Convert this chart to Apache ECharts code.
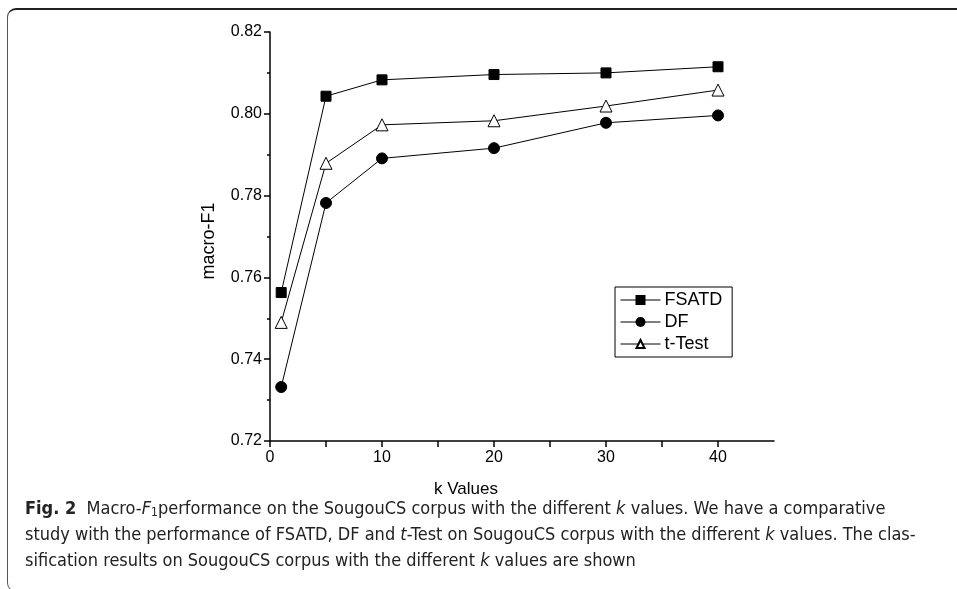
<!DOCTYPE html>
<html>
<head>
<meta charset="utf-8">
<script src="https://cdn.jsdelivr.net/npm/echarts@6/dist/echarts.min.js"></script>
<style>
    html, body { margin: 0; padding: 0; background: #fff; }
    #wrap { position: relative; width: 957px; height: 589px; overflow: hidden; }
    #chart { position: absolute; left: 0; top: 0; width: 957px; height: 589px; }
    #frame {
        position: absolute; left: 7px; top: 8px; width: 1000px; height: 584px;
        border-top: 2px solid #222; border-left: 1.5px solid #555;
        border-top-left-radius: 9px; border-bottom-left-radius: 9px;
        border-bottom: 1.5px solid #555;
        box-sizing: border-box; pointer-events: none;
    }
    #caption {
        position: absolute; left: 25px; top: 495px; width: 930px;
        font-family: "DejaVu Sans Condensed", "Liberation Sans Narrow", sans-serif;
        font-size: 18px; line-height: 26px; color: #222; white-space: nowrap;
    }
    #caption b { font-weight: bold; }
    sub { font-size: 12px; vertical-align: -2px; line-height: 0; }
</style>
</head>
<body>
<div id="wrap">
    <div id="chart"></div>
    <div id="frame"></div>
    <div id="caption"><b>Fig. 2</b>&nbsp; Macro-<i>F</i><sub>1</sub>performance on the SougouCS corpus with the different <i>k</i> values. We have a comparative<br>study with the performance of FSATD, DF and <i>t</i>-Test on SougouCS corpus with the different <i>k</i> values. The clas-<br>sification results on SougouCS corpus with the different <i>k</i> values are shown</div>
</div>
<script>
// k values on the x axis
var kValues = [1, 5, 10, 20, 30, 40];

// macro-F1 for each method
var fsatd = [0.7563, 0.8043, 0.8083, 0.8096, 0.8100, 0.8115];
var df    = [0.7332, 0.7782, 0.7891, 0.7916, 0.7978, 0.7996];
var tTest = [0.7490, 0.7879, 0.7973, 0.7983, 0.8019, 0.8058];

var seriesNames = ['FSATD', 'DF', 't-Test'];

function pairs(vals)
{
    var out = [];
    for (var i = 0; i < kValues.length; i++) {
        out.push([kValues[i], vals[i]]);
    }
    return out;
}

function lineSeries(name, vals, symbol, size, fill)
{
    return {
        name: name,
        type: 'line',
        data: pairs(vals),
        symbol: symbol,
        symbolSize: size,
        showAllSymbol: true,
        color: '#000',
        lineStyle: { color: '#000', width: 1 },
        itemStyle: { color: fill, borderColor: '#000', borderWidth: 1 },
        emphasis: { disabled: true },
        animation: false
    };
}

var axisFont = { fontFamily: 'Liberation Sans, Arial, sans-serif', fontSize: 16, color: '#000' };

var option = {
    animation: false,
    grid: { left: 270, right: 183, top: 32, bottom: 148 },
    legend: {
        orient: 'vertical',
        left: 615,
        top: 287,
        padding: [4, 10, 4, 5],
        itemGap: 4,
        itemWidth: 40,
        itemHeight: 10,
        borderColor: '#000',
        borderWidth: 1,
        data: seriesNames,
        lineStyle: { width: 1 },
        textStyle: { fontFamily: 'Liberation Sans, Arial, sans-serif', fontSize: 18, lineHeight: 18, color: '#000', padding: [0, 0, 0, -1] }
    },
    xAxis: {
        type: 'value',
        min: 0,
        max: 45,
        interval: 5,
        axisLine: { lineStyle: { color: '#000', width: 1.5 } },
        axisTick: { inside: false, length: 6, lineStyle: { color: '#000', width: 1.5 } },
        axisLabel: Object.assign({
            margin: 9,
            showMaxLabel: false,
            formatter: function (v) { return v % 10 === 0 ? String(v) : ''; }
        }, axisFont),
        splitLine: { show: false }
    },
    yAxis: {
        type: 'value',
        min: 0.72,
        max: 0.82,
        interval: 0.02,
        axisLine: { show: true, lineStyle: { color: '#000', width: 1.5 } },
        axisTick: { show: true, length: 6, lineStyle: { color: '#000', width: 1.5 } },
        minorTick: { show: true, splitNumber: 2, length: 3, lineStyle: { color: '#000', width: 1.5 } },
        axisLabel: Object.assign({
            margin: 8,
            formatter: function (v) { return v.toFixed(2); }
        }, axisFont),
        splitLine: { show: false }
    },
    graphic: [
        {
            type: 'text',
            x: 466,
            y: 489,
            style: {
                text: 'k Values', fontFamily: 'Liberation Sans, Arial, sans-serif', fontSize: 17,
                fill: '#000', align: 'center', verticalAlign: 'middle'
            }
        },
        {
            type: 'text',
            x: 209,
            y: 241,
            rotation: Math.PI / 2,
            style: {
                text: 'macro-F1', fontFamily: 'Liberation Sans, Arial, sans-serif', fontSize: 18,
                fill: '#000', align: 'center', verticalAlign: 'middle'
            }
        }
    ],
    series: [
        lineSeries('FSATD', fsatd, 'rect', 10, '#000'),
        lineSeries('DF', df, 'circle', 11, '#000'),
        lineSeries('t-Test', tTest, 'triangle', 12, '#fff')
    ]
};

var chart = echarts.init(document.getElementById('chart'), null, { renderer: 'canvas' });
chart.setOption(option);
window.addEventListener('resize', function () {
    chart.resize();
});
</script>
</body>
</html>
